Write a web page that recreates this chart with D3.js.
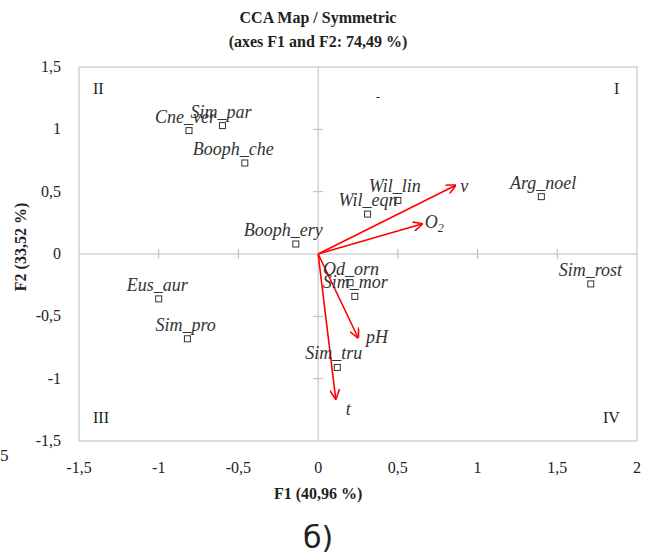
<!DOCTYPE html>
<html>
<head>
<meta charset="utf-8">
<title>CCA Map / Symmetric</title>
<script src="https://d3js.org/d3.v7.min.js"></script>
<style>
body { margin: 0; background: white; }
svg text { font-family: "Liberation Serif", "Times New Roman", serif; fill: #222; }
svg text.lab { font-style: italic; font-size: 18px; fill: #333; }
</style>
</head>
<body>
<script>
// species (sites) scores
var species = ["Cne_ver", "Sim_par", "Booph_che", "Booph_ery", "Wil_lin", "Wil_eqn", "Arg_noel",
               "Sim_rost", "Od_orn", "Sim_mor", "Eus_aur", "Sim_pro", "Sim_tru"];
var f1 = [-0.81, -0.60, -0.46, -0.14, 0.50, 0.31, 1.40, 1.71, 0.20, 0.23, -1.00, -0.82, 0.12];
var f2 = [0.99, 1.03, 0.73, 0.08, 0.43, 0.32, 0.46, -0.24, -0.23, -0.34, -0.36, -0.68, -0.91];

// environmental variables (arrows)
var vars = ["v", "O2", "pH", "t"];
var v1 = [0.86, 0.65, 0.25, 0.11];
var v2 = [0.55, 0.24, -0.67, -1.16];

var xTicks = [-1.5, -1, -0.5, 0, 0.5, 1, 1.5, 2];
var yTicks = [-1.5, -1, -0.5, 0, 0.5, 1, 1.5];

var width = 652, height = 555;
var svg = d3.select("body").append("svg")
  .attr("width", width).attr("height", height);

var x = d3.scaleLinear().domain([-1.5, 2]).range([79, 637]);
var y = d3.scaleLinear().domain([-1.5, 1.5]).range([441, 67]);
var fmt = function(d) { return String(d).replace(".", ","); };

svg.append("defs").append("marker")
  .attr("id", "arr").attr("viewBox", "0 0 10 10")
  .attr("refX", 9).attr("refY", 5)
  .attr("markerWidth", 10).attr("markerHeight", 10)
  .attr("markerUnits", "userSpaceOnUse")
  .attr("orient", "auto")
  .append("path").attr("d", "M0,0 L10,5 L0,10")
  .attr("fill", "none").attr("stroke", "#f00").attr("stroke-width", 1.6);

// title
svg.append("text").attr("x", 318).attr("y", 23).attr("text-anchor", "middle")
  .attr("font-weight", "bold").attr("font-size", 16).text("CCA Map / Symmetric");
svg.append("text").attr("x", 318).attr("y", 47).attr("text-anchor", "middle")
  .attr("font-weight", "bold").attr("font-size", 16).text("(axes F1 and F2: 74,49 %)");

// plot frame
svg.append("rect").attr("x", x(-1.5)).attr("y", y(1.5))
  .attr("width", x(2) - x(-1.5)).attr("height", y(-1.5) - y(1.5))
  .attr("fill", "none").attr("stroke", "#bbb");

// zero lines with crossing ticks
svg.append("line").attr("x1", x(-1.5)).attr("x2", x(2)).attr("y1", y(0)).attr("y2", y(0))
  .attr("stroke", "#bbb");
svg.append("line").attr("x1", x(0)).attr("x2", x(0)).attr("y1", y(1.5)).attr("y2", y(-1.5))
  .attr("stroke", "#bbb");
svg.selectAll(".xt").data(xTicks.filter(function(d) { return d > -1.5 && d < 2 && d != 0; }))
  .enter().append("line")
  .attr("x1", d => x(d)).attr("x2", d => x(d))
  .attr("y1", y(0) - 5).attr("y2", y(0) + 5).attr("stroke", "#bbb");
svg.selectAll(".yt").data(yTicks.filter(function(d) { return d > -1.5 && d < 1.5 && d != 0; }))
  .enter().append("line")
  .attr("x1", x(0) - 5).attr("x2", x(0) + 5)
  .attr("y1", d => y(d)).attr("y2", d => y(d)).attr("stroke", "#bbb");

// tick labels
svg.selectAll(".xl").data(xTicks).enter().append("text")
  .attr("x", d => x(d)).attr("y", 473).attr("text-anchor", "middle")
  .attr("font-size", 16).text(fmt);
svg.selectAll(".yl").data(yTicks).enter().append("text")
  .attr("x", 61).attr("y", d => y(d) + 5).attr("text-anchor", "end")
  .attr("font-size", 16).text(fmt);

// axis titles
svg.append("text").attr("x", x(0)).attr("y", 499).attr("text-anchor", "middle")
  .attr("font-weight", "bold").attr("font-size", 16).text("F1 (40,96 %)");
svg.append("text").attr("transform", "translate(26,247) rotate(-90)")
  .attr("text-anchor", "middle").attr("font-weight", "bold").attr("font-size", 16)
  .text("F2 (33,52 %)");

// quadrant labels
svg.append("text").attr("x", 93).attr("y", 94).attr("font-size", 16).text("II");
svg.append("text").attr("x", 614).attr("y", 94).attr("font-size", 16).text("I");
svg.append("text").attr("x", 93).attr("y", 423).attr("font-size", 16).text("III");
svg.append("text").attr("x", 603).attr("y", 423).attr("font-size", 16).text("IV");

// stray marks from the source image
svg.append("text").attr("x", 376).attr("y", 101).attr("font-size", 12).text("-");
svg.append("text").attr("x", 0).attr("y", 461).attr("font-size", 17).text("5");

// arrows
var g = svg.append("g");
g.selectAll("line.arrow").data(vars).enter().append("line")
  .attr("class", "arrow")
  .attr("x1", x(0)).attr("y1", y(0))
  .attr("x2", (d, i) => x(v1[i])).attr("y2", (d, i) => y(v2[i]))
  .attr("stroke", "#f00").attr("stroke-width", 1.6)
  .attr("marker-end", "url(#arr)");

var vlab = g.selectAll("text.vl").data(vars).enter().append("text")
  .attr("class", "lab")
  .attr("x", (d, i) => x(v1[i]) + [5, 3, 8, 10][i])
  .attr("y", (d, i) => y(v2[i]) + [7, 4, 5, 16][i]);
vlab.each(function(d) {
  var t = d3.select(this);
  if (d == "O2") {
    t.append("tspan").text("O");
    t.append("tspan").attr("font-size", 12).attr("dy", 4).text("2");
  } else t.text(d);
});

// species points
var pts = svg.append("g");
pts.selectAll("rect").data(species).enter().append("rect")
  .attr("x", (d, i) => x(f1[i]) - 3).attr("y", (d, i) => y(f2[i]) - 3)
  .attr("width", 6).attr("height", 6)
  .attr("fill", "white").attr("stroke", "#333").attr("stroke-width", 1);

// labels: the underscore sits just above-left of its square
pts.selectAll("text").data(species).enter().append("text")
  .attr("class", "lab")
  .attr("y", (d, i) => y(f2[i]) - 8)
  .each(function(d, i) {
    var t = d3.select(this);
    var k = d.indexOf("_");
    var pre = t.append("tspan").text(d.slice(0, k));
    t.append("tspan").text(d.slice(k));
    var w = pre.node().getComputedTextLength();
    t.attr("x", x(f1[i]) - 5 - w);
  });

// figure caption
svg.append("text").attr("x", 318).attr("y", 548).attr("text-anchor", "middle")
  .attr("font-size", 30).style("font-family", "'DejaVu Sans', sans-serif").text("б)");
</script>
</body>
</html>
